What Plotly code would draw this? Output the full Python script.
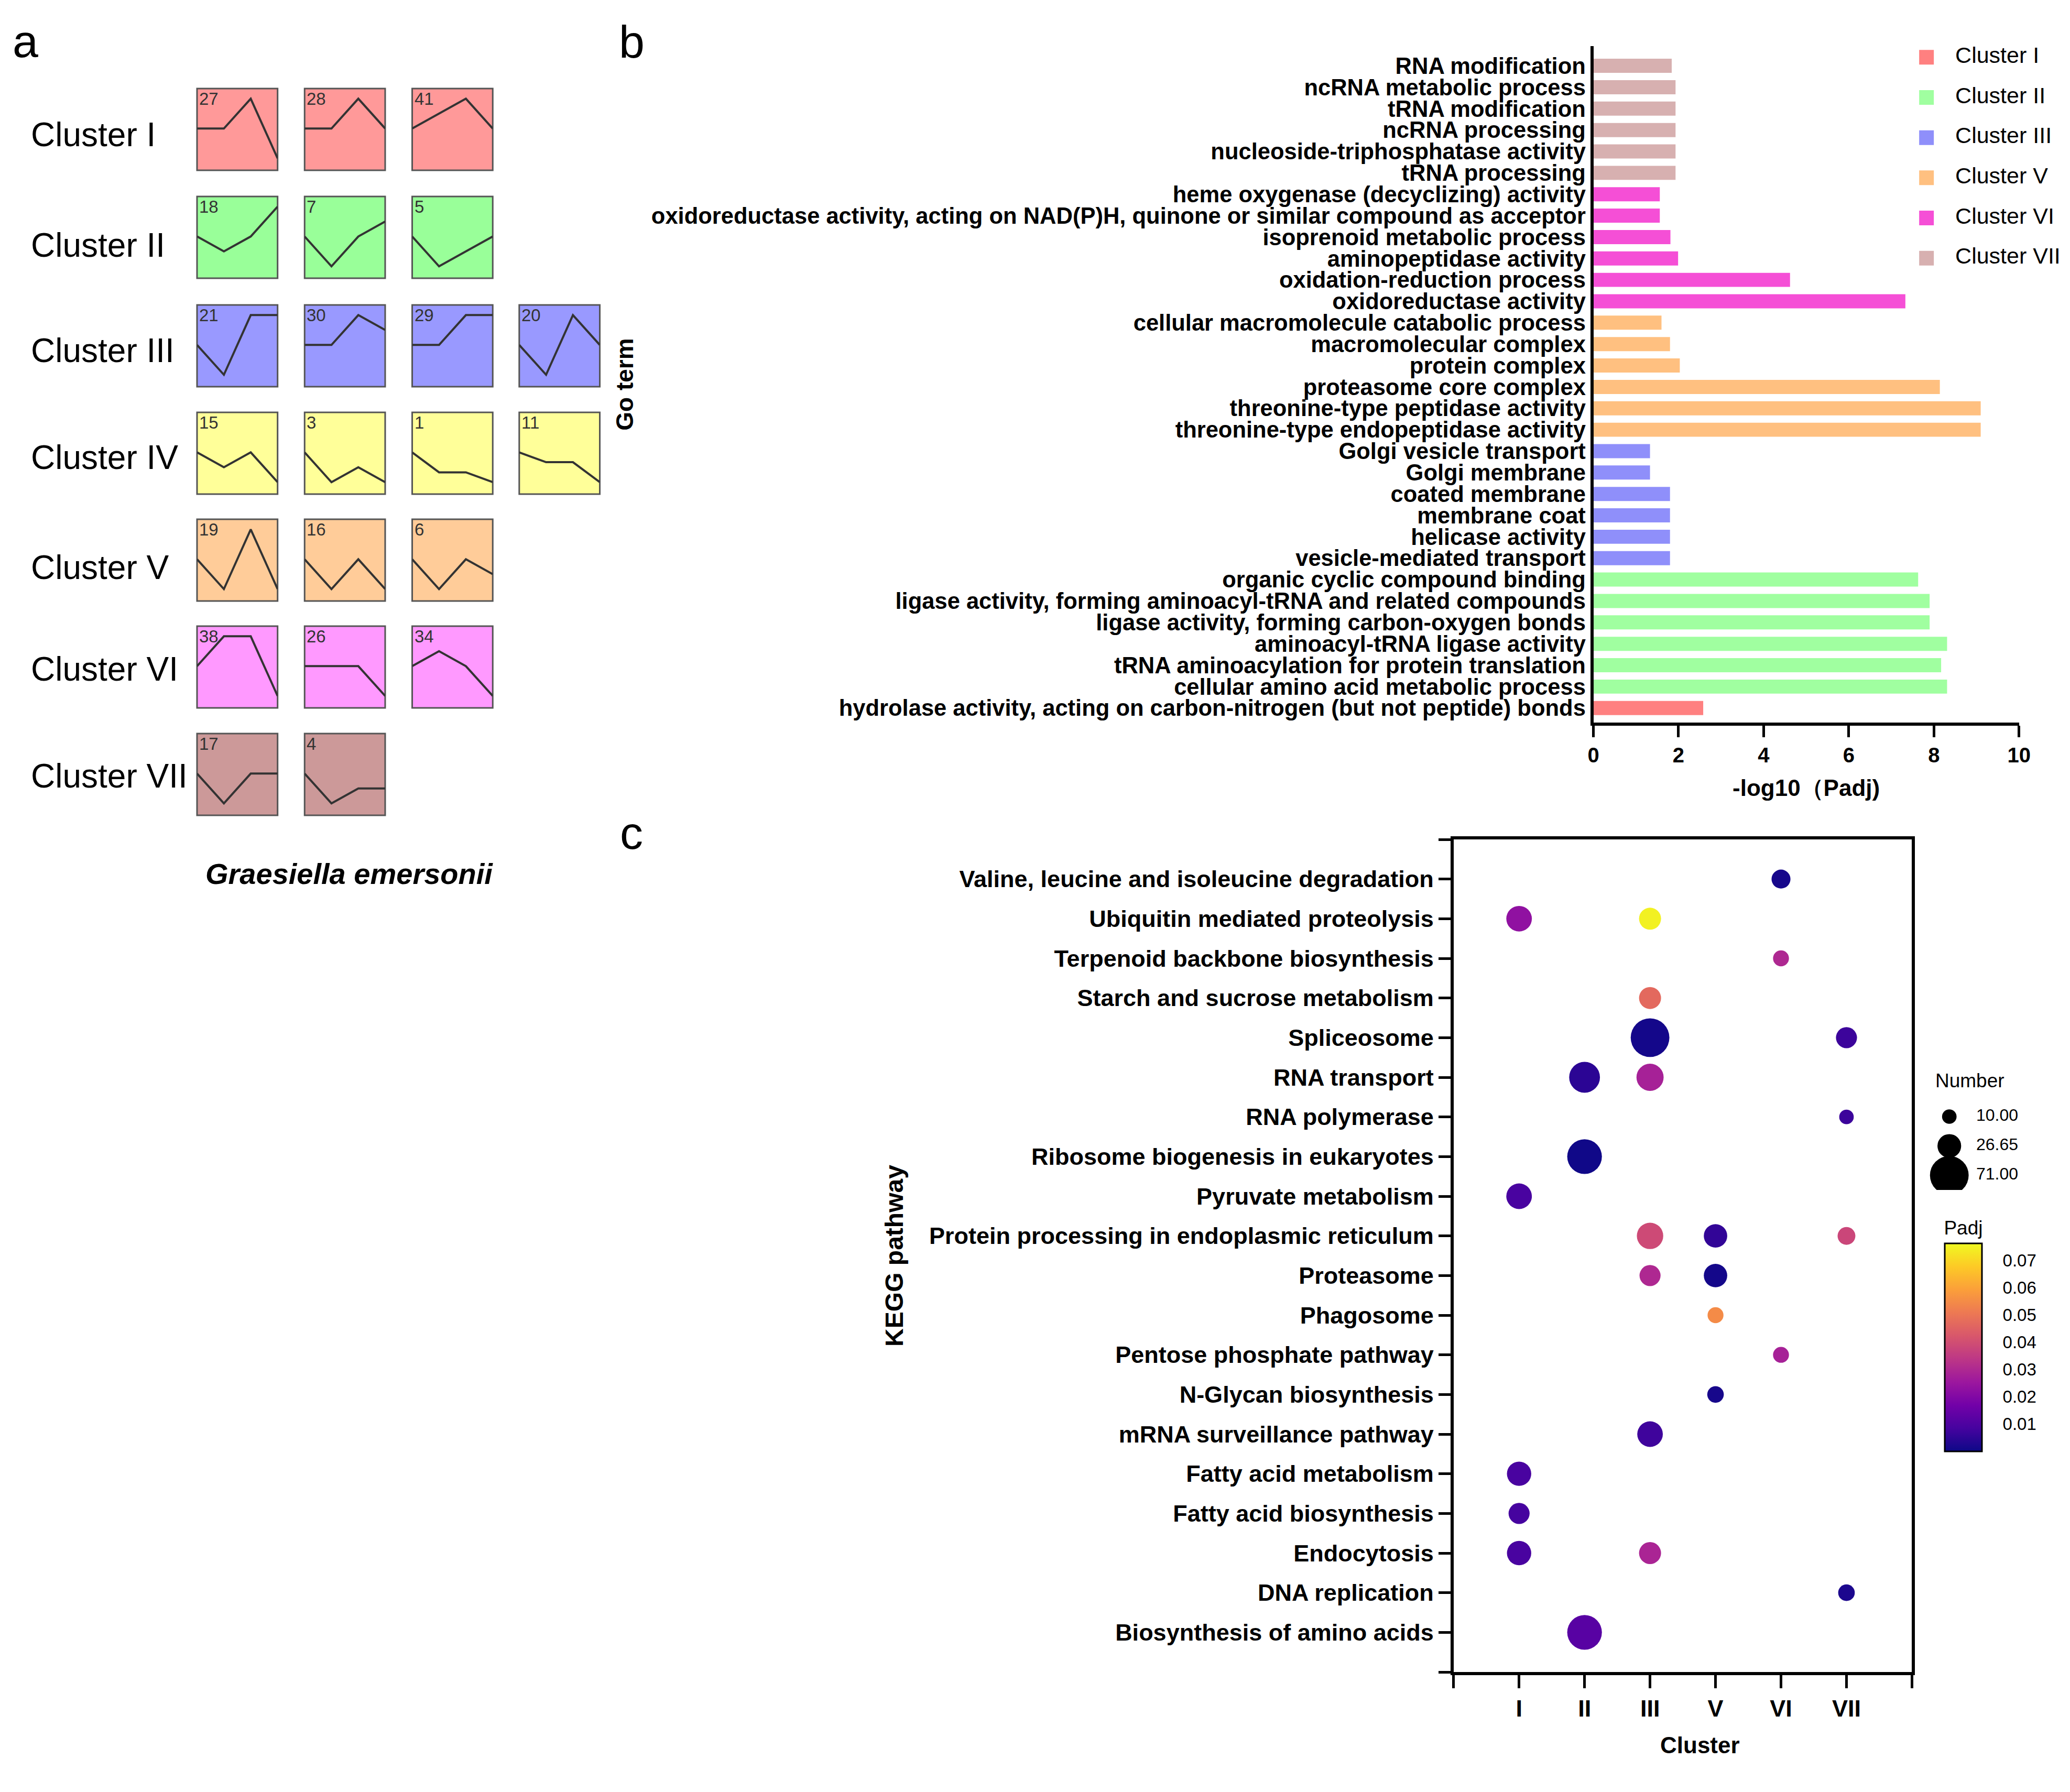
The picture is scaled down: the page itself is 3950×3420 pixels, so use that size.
import plotly.graph_objects as go

W, H = 3950, 3420
FONT = "Liberation Sans, Arial, sans-serif"

# ---------------- Panel a: expression profiles ----------------
profile_clusters = ["Cluster I", "Cluster II", "Cluster III", "Cluster IV",
                    "Cluster V", "Cluster VI", "Cluster VII"]
profile_ids = [[27, 28, 41], [18, 7, 5], [21, 30, 29, 20], [15, 3, 1, 11],
               [19, 16, 6], [38, 26, 34], [17, 4]]
profile_values = [
    [[0, 0, 1, -1], [0, 0, 1, 0], [0, 0.5, 1, 0]],
    [[0, -0.5, 0, 1], [0, -1, 0, 0.5], [0, -1, -0.5, 0]],
    [[0, -1, 1, 1], [0, 0, 1, 0.5], [0, 0, 1, 1], [0, -1, 1, 0]],
    [[0, -0.5, 0, -1], [0, -1, -0.5, -1], [0, -0.67, -0.67, -1], [0, -0.33, -0.33, -1]],
    [[0, -1, 1, -1], [0, -1, 0, -1], [0, -1, 0, -0.5]],
    [[0, 1, 1, -1], [0, 0, 0, -1], [0, 0.5, 0, -1]],
    [[0, -1, 0, 0], [0, -1, -0.5, -0.5]],
]
time_points = [0, 1, 2, 3]
tile_colors = ["#FF9999", "#99FF99", "#9999FF", "#FFFF99", "#FFCC99", "#FF99FF", "#CC9999"]
species = "Graesiella emersonii"

# ---------------- Panel b: GO enrichment ----------------
go_terms = [
    "RNA modification", "ncRNA metabolic process", "tRNA modification", "ncRNA processing",
    "nucleoside-triphosphatase activity", "tRNA processing",
    "heme oxygenase (decyclizing) activity",
    "oxidoreductase activity, acting on NAD(P)H, quinone or similar compound as acceptor",
    "isoprenoid metabolic process", "aminopeptidase activity", "oxidation-reduction process",
    "oxidoreductase activity",
    "cellular macromolecule catabolic process", "macromolecular complex", "protein complex",
    "proteasome core complex", "threonine-type peptidase activity",
    "threonine-type endopeptidase activity",
    "Golgi vesicle transport", "Golgi membrane", "coated membrane", "membrane coat",
    "helicase activity", "vesicle-mediated transport",
    "organic cyclic compound binding",
    "ligase activity, forming aminoacyl-tRNA and related compounds",
    "ligase activity, forming carbon-oxygen bonds", "aminoacyl-tRNA ligase activity",
    "tRNA aminoacylation for protein translation", "cellular amino acid metabolic process",
    "hydrolase activity, acting on carbon-nitrogen (but not peptide) bonds",
]
go_values = [1.84, 1.93, 1.93, 1.93, 1.93, 1.93,
             1.56, 1.56, 1.81, 1.99, 4.62, 7.33,
             1.60, 1.80, 2.03, 8.14, 9.10, 9.10,
             1.33, 1.33, 1.80, 1.80, 1.80, 1.80,
             7.63, 7.90, 7.90, 8.31, 8.17, 8.31,
             2.58]
go_clusters = (["Cluster VII"] * 6 + ["Cluster VI"] * 6 + ["Cluster V"] * 6 +
               ["Cluster III"] * 6 + ["Cluster II"] * 6 + ["Cluster I"])
go_legend = ["Cluster I", "Cluster II", "Cluster III", "Cluster V", "Cluster VI", "Cluster VII"]
go_colors = {"Cluster I": "#FF8080", "Cluster II": "#A0FFA0", "Cluster III": "#8F8FFA",
             "Cluster V": "#FFC080", "Cluster VI": "#F54FD6", "Cluster VII": "#D7B0B0"}
go_ticks = [0, 2, 4, 6, 8, 10]

# ---------------- Panel c: KEGG enrichment ----------------
kegg_pathways = [
    "Valine, leucine and isoleucine degradation", "Ubiquitin mediated proteolysis",
    "Terpenoid backbone biosynthesis", "Starch and sucrose metabolism", "Spliceosome",
    "RNA transport", "RNA polymerase", "Ribosome biogenesis in eukaryotes",
    "Pyruvate metabolism", "Protein processing in endoplasmic reticulum", "Proteasome",
    "Phagosome", "Pentose phosphate pathway", "N-Glycan biosynthesis",
    "mRNA surveillance pathway", "Fatty acid metabolism", "Fatty acid biosynthesis",
    "Endocytosis", "DNA replication", "Biosynthesis of amino acids",
]
kegg_clusters = ["I", "II", "III", "V", "VI", "VII"]
kegg_pt_pathway = [
    "Valine, leucine and isoleucine degradation",
    "Ubiquitin mediated proteolysis", "Ubiquitin mediated proteolysis",
    "Terpenoid backbone biosynthesis",
    "Starch and sucrose metabolism",
    "Spliceosome", "Spliceosome",
    "RNA transport", "RNA transport",
    "RNA polymerase",
    "Ribosome biogenesis in eukaryotes",
    "Pyruvate metabolism",
    "Protein processing in endoplasmic reticulum", "Protein processing in endoplasmic reticulum",
    "Protein processing in endoplasmic reticulum",
    "Proteasome", "Proteasome",
    "Phagosome",
    "Pentose phosphate pathway",
    "N-Glycan biosynthesis",
    "mRNA surveillance pathway",
    "Fatty acid metabolism",
    "Fatty acid biosynthesis",
    "Endocytosis", "Endocytosis",
    "DNA replication",
    "Biosynthesis of amino acids",
]
kegg_pt_cluster = ["VI", "I", "III", "VI", "III", "III", "VII", "II", "III", "VII", "II", "I",
                   "III", "V", "VII", "III", "V", "V", "VI", "V", "III", "I", "I", "I", "III",
                   "VII", "II"]
kegg_pt_number = [17, 31, 23, 12, 23, 71, 21, 45, 35, 10, 57, 31,
                  33, 26, 15, 21, 26, 12, 12, 13, 31, 28, 21, 28, 23,
                  13, 57]
kegg_pt_padj = [0.0015, 0.023, 0.075, 0.030, 0.047, 0.001, 0.007, 0.0045, 0.028, 0.007,
                0.0005, 0.009, 0.039, 0.0055, 0.038, 0.030, 0.001, 0.055, 0.028, 0.0015,
                0.0075, 0.009, 0.0085, 0.009, 0.029, 0.0023, 0.012]
size_legend_values = [10, 26.65, 71]
size_legend_labels = ["10.00", "26.65", "71.00"]
padj_ticks = [0.01, 0.02, 0.03, 0.04, 0.05, 0.06, 0.07]
PADJ_MAX = 0.0764
SIZEREF = 1 / 38.4


def xd(x0, x1):
    return [x0 / W, x1 / W]


def yd(top, bottom):
    return [1 - bottom / H, 1 - top / H]


def ann(text, x, y, size, xanchor="center", yanchor="middle", **kw):
    return dict(text=text, x=x / W, y=1 - y / H, xref="paper", yref="paper",
                xanchor=xanchor, yanchor=yanchor, showarrow=False,
                font=dict(family=FONT, size=size, color="black", **kw))


fig = go.Figure()
layout = {}
shapes = []
annotations = []

# ---- Panel b bars
for cl in go_legend:
    terms = [t for t, c in zip(go_terms, go_clusters) if c == cl]
    vals = [v for v, c in zip(go_values, go_clusters) if c == cl]
    fig.add_trace(go.Bar(x=vals, y=terms, orientation="h", width=0.66,
                         marker=dict(color=go_colors[cl], line=dict(width=0)),
                         xaxis="x", yaxis="y", showlegend=False, name=cl))

layout["xaxis"] = dict(domain=xd(3047, 3866), range=[0, 10], anchor="y",
                       tickvals=go_ticks, ticks="outside", ticklen=22, tickwidth=5,
                       tickcolor="black", showline=True, linewidth=6, linecolor="black",
                       showgrid=False, zeroline=False,
                       tickfont=dict(family=FONT, size=40, color="black", weight=700),
                       title=dict(text="-log10\uff08Padj)", standoff=28,
                                  font=dict(family=FONT, size=44, color="black", weight=700)))
layout["yaxis"] = dict(domain=yd(80, 1371), type="category", categoryorder="array",
                       categoryarray=go_terms, tickmode="array", tickvals=go_terms,
                       ticktext=go_terms, range=[30.68, -0.92], anchor="x",
                       showline=True, linewidth=6, linecolor="black", ticks="",
                       showgrid=False, zeroline=False,
                       tickfont=dict(family=FONT, size=43.5, color="black", weight=700),
                       title=dict(text="Go term", standoff=22,
                                  font=dict(family=FONT, size=46, color="black", weight=700)))

# legend for panel b (manual, large squares)
leg_idx = list(range(len(go_legend)))
fig.add_trace(go.Scatter(x=[0.087] * len(go_legend), y=leg_idx, mode="markers",
                         marker=dict(symbol="square", size=28, opacity=1,
                                     color=[go_colors[c] for c in go_legend]),
                         xaxis="x3", yaxis="y3", showlegend=False, hoverinfo="skip"))
fig.add_trace(go.Scatter(x=[0.28] * len(go_legend), y=leg_idx, mode="text",
                         text=go_legend, textposition="middle right",
                         textfont=dict(family=FONT, size=43, color="black"),
                         xaxis="x3", yaxis="y3", showlegend=False, hoverinfo="skip"))
hidden = dict(visible=False, showgrid=False, zeroline=False, fixedrange=True)
layout["xaxis3"] = dict(domain=xd(3663, 3950), range=[0, 1], anchor="y3", **hidden)
layout["yaxis3"] = dict(domain=yd(63, 523), range=[5.5, -0.5], anchor="x3", **hidden)

# ---- Panel c scatter
kx = [kegg_clusters.index(c) + 1 for c in kegg_pt_cluster]
ky = [kegg_pathways.index(p) + 1 for p in kegg_pt_pathway]
fig.add_trace(go.Scatter(
    x=kx, y=ky, mode="markers", xaxis="x2", yaxis="y2", showlegend=False,
    marker=dict(size=kegg_pt_number, sizemode="area", sizeref=SIZEREF, opacity=1,
                color=kegg_pt_padj, colorscale="Plasma", cmin=0, cmax=PADJ_MAX,
                line=dict(width=0),
                colorbar=dict(x=3723 / W, xanchor="left", y=1 - 2540 / H, yanchor="middle",
                              len=443, lenmode="pixels", thickness=71, thicknessmode="pixels",
                              outlinewidth=3, outlinecolor="black", xpad=0, ypad=0,
                              tickvals=padj_ticks, ticktext=[f"{v:.2f}" for v in padj_ticks],
                              ticks="outside", ticklen=32, tickwidth=1,
                              tickcolor="rgba(0,0,0,0)",
                              tickfont=dict(family=FONT, size=33, color="black"),
                              title=dict(text="Padj", side="top",
                                         font=dict(family=FONT, size=37, color="black"))))))

layout["xaxis2"] = dict(domain=xd(2778, 3660), range=[0, 7], anchor="y2",
                        tickvals=list(range(8)), ticktext=[""] + kegg_clusters + [""],
                        ticks="outside", ticklen=25, tickwidth=5, tickcolor="black",
                        showline=True, linewidth=6, linecolor="black", mirror=True,
                        showgrid=False, zeroline=False,
                        tickfont=dict(family=FONT, size=45, color="black", weight=700))
layout["yaxis2"] = dict(domain=yd(1594, 3183), range=[len(kegg_pathways) + 1, 0], anchor="x2",
                        tickvals=list(range(len(kegg_pathways) + 2)),
                        ticktext=[""] + kegg_pathways + [""],
                        ticks="outside", ticklen=23, tickwidth=5, tickcolor="black",
                        showline=True, linewidth=6, linecolor="black", mirror=True,
                        showgrid=False, zeroline=False,
                        tickfont=dict(family=FONT, size=45, color="black", weight=700),
                        title=dict(text="KEGG pathway", standoff=36,
                                   font=dict(family=FONT, size=48, color="black", weight=700)))
annotations.append(ann("Cluster", 3252, 3322, 44, weight=700))

# size legend (manual)
sl_idx = list(range(len(size_legend_values)))
fig.add_trace(go.Scatter(x=[0.24] * 3, y=sl_idx, mode="markers",
                         marker=dict(size=size_legend_values, sizemode="area", sizeref=SIZEREF,
                                     color="black", opacity=1, line=dict(width=0)),
                         xaxis="x4", yaxis="y4", showlegend=False, hoverinfo="skip"))
fig.add_trace(go.Scatter(x=[0.42] * 3, y=sl_idx, mode="text", text=size_legend_labels,
                         textposition="middle right",
                         textfont=dict(family=FONT, size=32, color="black"),
                         xaxis="x4", yaxis="y4", showlegend=False, hoverinfo="skip"))
layout["xaxis4"] = dict(domain=xd(3663, 3950), range=[0, 1], anchor="y4", **hidden)
layout["yaxis4"] = dict(domain=yd(2095, 2263), range=[2.5, -0.5], anchor="x4", **hidden)
annotations.append(ann("Number", 3703, 2054, 37, xanchor="left"))

# ---- Panel a tiles
row_tops = [161, 367, 574, 779, 983, 1187, 1392]
col_lefts = [360, 567, 774, 980]
label_y = [249, 460, 661, 865, 1075, 1269, 1473]
TW, TH = 155, 156
ax_n = 5
for r, (cname, ids, vals) in enumerate(zip(profile_clusters, profile_ids, profile_values)):
    annotations.append(ann(cname, 38, label_y[r], 64, xanchor="left"))
    for c, (pid, prof) in enumerate(zip(ids, vals)):
        xa, ya = f"x{ax_n}", f"y{ax_n}"
        left, top = col_lefts[c], row_tops[r]
        layout[f"xaxis{ax_n}"] = dict(domain=xd(left, left + TW), range=[0, 3], anchor=ya, **hidden)
        layout[f"yaxis{ax_n}"] = dict(domain=yd(top, top + TH), range=[-1.4, 1.34], anchor=xa, **hidden)
        shapes.append(dict(type="rect", xref=f"{xa} domain", yref=f"{ya} domain",
                           x0=0, x1=1, y0=0, y1=1, fillcolor=tile_colors[r],
                           line=dict(color="#555555", width=3), layer="below"))
        fig.add_trace(go.Scatter(x=time_points, y=prof, mode="lines",
                                 line=dict(color="#333333", width=4),
                                 xaxis=xa, yaxis=ya, showlegend=False, hoverinfo="skip"))
        annotations.append(dict(text=str(pid), x=0.02, y=1.0, xref=f"{xa} domain",
                                yref=f"{ya} domain", xanchor="left", yanchor="top",
                                showarrow=False, borderpad=0,
                                font=dict(family=FONT, size=33, color="#333333")))
        ax_n += 1

annotations.append(ann(f"<b><i>{species}</i></b>", 653, 1659, 56))

# panel letters
for letter, px, py in [("a", 30, 71), ("b", 1197, 72), ("c", 1196, 1582)]:
    annotations.append(ann(letter, px, py, 88))

fig.update_layout(width=W, height=H, margin=dict(l=0, r=0, t=0, b=0),
                  paper_bgcolor="white", plot_bgcolor="white", barmode="overlay",
                  showlegend=False, shapes=shapes, annotations=annotations,
                  font=dict(family=FONT, color="black"), **layout)

fig.write_html("out.html")
